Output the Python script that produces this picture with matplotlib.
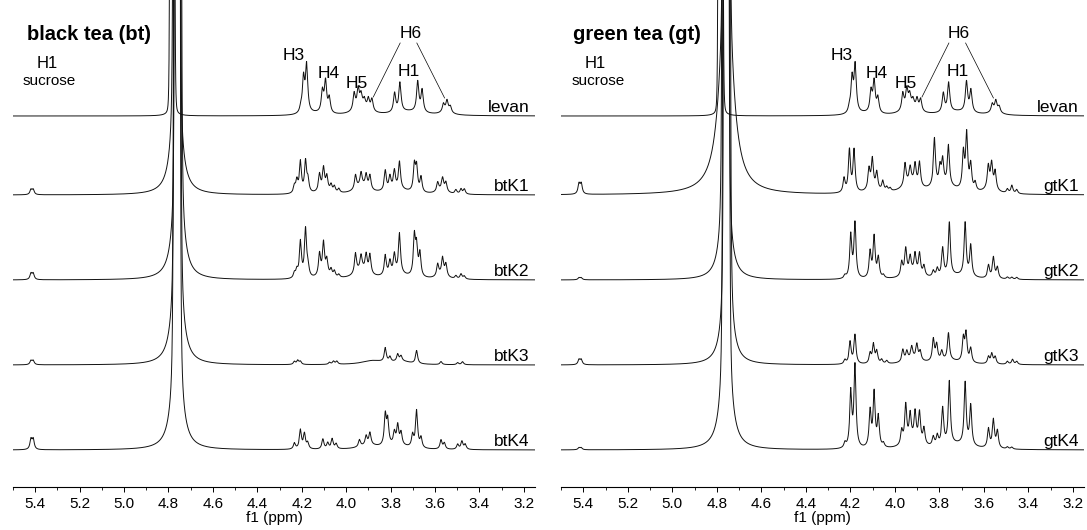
import numpy as np
import matplotlib.pyplot as plt
from matplotlib.ticker import MultipleLocator

plt.rcParams['font.family'] = ['Liberation Sans', 'DejaVu Sans']

# chemical shift window (ppm) and vertical layout (axis height = 487 units)
ppm_lim = (5.5, 3.15)
offsets = [371, 292, 207, 122, 37]

# peak tables: (ppm, height)
levan_peaks = [(4.204, 5), (4.192, 34), (4.178, 47), (4.107, 21), (4.093, 31), (4.076, 15),
               (3.964, 17), (3.946, 19), (3.933, 12), (3.918, 8), (3.900, 11), (3.884, 12),
               (3.782, 19), (3.758, 29), (3.678, 30), (3.658, 22),
               (3.562, 8), (3.546, 11), (3.531, 6)]
levan_broad = [(3.93, 7, 0.04), (3.72, 4, 0.08), (3.55, 3, 0.03), (4.14, 2, 0.05)]

btk1_peaks = [(5.419, 5), (5.409, 5),
              (4.233, 7), (4.222, 12), (4.206, 31), (4.183, 31), (4.172, 12),
              (4.120, 17), (4.102, 22), (4.087, 14), (4.068, 7), (4.053, 6), (4.033, 4),
              (3.958, 14), (3.933, 13), (3.910, 13), (3.893, 14),
              (3.824, 20), (3.803, 13), (3.783, 18), (3.760, 27),
              (3.693, 26), (3.683, 24), (3.663, 15),
              (3.588, 9), (3.566, 12), (3.551, 9), (3.506, 4), (3.483, 5), (3.468, 5)]
btk1_broad = [(3.93, 8, 0.035), (3.77, 5, 0.06), (3.57, 4, 0.025), (4.10, 3, 0.03)]

btk2_peaks = [(5.419, 6), (5.409, 6),
              (4.233, 5), (4.222, 7), (4.206, 36), (4.183, 48), (4.172, 10),
              (4.120, 22), (4.102, 32), (4.087, 15), (4.068, 7), (4.053, 6), (4.033, 3),
              (3.958, 20), (3.933, 14), (3.910, 17), (3.893, 19),
              (3.824, 20), (3.803, 13), (3.783, 19), (3.760, 40),
              (3.693, 39), (3.683, 28), (3.668, 23),
              (3.588, 12), (3.566, 17), (3.551, 12), (3.506, 3), (3.483, 5), (3.468, 3)]
btk2_broad = [(3.93, 9, 0.035), (3.77, 5, 0.06), (3.57, 4, 0.025), (4.10, 3, 0.03)]

btk3_peaks = [(5.419, 4), (5.409, 4),
              (4.233, 3), (4.218, 4), (4.206, 3), (4.075, 2), (4.057, 3), (4.042, 3),
              (3.824, 14), (3.803, 5), (3.768, 7), (3.753, 5), (3.683, 13),
              (3.573, 3), (3.498, 2), (3.476, 3)]
btk3_broad = [(3.88, 4, 0.06), (3.75, 3, 0.05)]

btk4_peaks = [(5.419, 10), (5.409, 10),
              (4.233, 6), (4.206, 19), (4.188, 15), (4.173, 6),
              (4.105, 10), (4.083, 6), (4.063, 10), (4.045, 5),
              (3.940, 7), (3.910, 9), (3.893, 12), (3.824, 30), (3.813, 24),
              (3.783, 12), (3.768, 19), (3.753, 12), (3.701, 12), (3.683, 37), (3.663, 10),
              (3.573, 9), (3.558, 6), (3.498, 5), (3.479, 8), (3.464, 5)]
btk4_broad = [(3.90, 4, 0.05), (3.77, 4, 0.06)]

gtk1_peaks = [(5.419, 10), (5.409, 10),
              (4.228, 14), (4.204, 42), (4.183, 42),
              (4.116, 20), (4.101, 29), (4.081, 17), (4.054, 10), (4.036, 4), (4.021, 3),
              (3.954, 22), (3.931, 15), (3.909, 20), (3.889, 24),
              (3.822, 48), (3.797, 17), (3.785, 24), (3.759, 40),
              (3.692, 36), (3.677, 55), (3.659, 25), (3.639, 8),
              (3.580, 22), (3.565, 24), (3.549, 18), (3.494, 4), (3.474, 8), (3.452, 4)]
gtk1_broad = [(3.93, 10, 0.04), (3.78, 8, 0.07), (3.57, 5, 0.03), (4.10, 4, 0.03)]

gtk2_peaks = [(5.419, 2), (5.409, 2),
              (4.224, 3), (4.198, 43), (4.179, 55),
              (4.111, 26), (4.093, 41), (4.074, 20), (4.051, 3),
              (3.969, 14), (3.951, 26), (3.931, 16), (3.909, 19), (3.889, 21), (3.869, 10),
              (3.827, 6), (3.809, 8), (3.785, 28), (3.755, 53), (3.684, 53), (3.659, 31),
              (3.579, 13), (3.557, 21), (3.539, 11), (3.494, 2), (3.474, 2), (3.452, 2)]
gtk2_broad = [(3.92, 6, 0.04), (3.72, 4, 0.07)]

gtk3_peaks = [(5.419, 5), (5.409, 5),
              (4.224, 4), (4.201, 22), (4.179, 29),
              (4.111, 10), (4.096, 19), (4.081, 12), (4.059, 4), (4.036, 3),
              (3.964, 12), (3.946, 9), (3.924, 12), (3.901, 15), (3.886, 9),
              (3.827, 22), (3.812, 16), (3.789, 9), (3.759, 27),
              (3.692, 23), (3.680, 28), (3.659, 14),
              (3.579, 7), (3.564, 10), (3.549, 7), (3.494, 3), (3.471, 5), (3.452, 3)]
gtk3_broad = [(3.92, 5, 0.04), (3.76, 4, 0.07)]

gtk4_peaks = [(5.419, 2), (5.409, 2),
              (4.224, 5), (4.198, 55), (4.179, 82),
              (4.111, 36), (4.093, 54), (4.074, 30), (4.051, 4),
              (3.969, 14), (3.951, 38), (3.931, 26), (3.909, 28), (3.889, 30), (3.869, 16),
              (3.827, 9), (3.809, 10), (3.785, 37), (3.755, 63), (3.684, 62), (3.659, 40),
              (3.579, 19), (3.557, 28), (3.539, 17), (3.494, 2), (3.474, 2)]
gtk4_broad = [(3.92, 8, 0.04), (3.72, 5, 0.07)]

# residual water signal (off scale): (ppm, core half width, tail height, tail width)
levan_water = (4.783, 0.008, 20, 0.012)
bt_water = [(4.764, 0.011, 200, 0.0175), (4.757, 0.011, 200, 0.0175),
            (4.760, 0.011, 200, 0.0175), (4.762, 0.011, 200, 0.0175)]
gt_water = [(4.757, 0.011, 250, 0.03), (4.761, 0.011, 200, 0.016),
            (4.754, 0.011, 200, 0.016), (4.758, 0.011, 200, 0.018)]

bt_names = ['levan', 'btK1', 'btK2', 'btK3', 'btK4']
gt_names = ['levan', 'gtK1', 'gtK2', 'gtK3', 'gtK4']


def lorentz(x, x0, h, w):
    return h * w**2 / ((x - x0)**2 + w**2)


def trace(x, peaks, broad, water, width=0.005):
    y = np.zeros_like(x)
    for p, h in peaks:
        y += lorentz(x, p, h, width)
    for p, h, w in broad:
        y += lorentz(x, p, h, w)
    wp, core, th, tw = water
    y += 6000 / (1 + ((x - wp) / core)**8)
    y += lorentz(x, wp, th, tw)
    return y


x = np.linspace(3.15, 5.5, 16000)

fig = plt.figure(figsize=(10.87, 5.30), dpi=100)
axL = fig.add_axes([13/1087, 43/530, 522/1087, 487/530])
axR = fig.add_axes([561/1087, 43/530, 523/1087, 487/530])

panels = [
    (axL, 'black tea (bt)', bt_names,
     [(levan_peaks, levan_broad, levan_water, 0.006),
      (btk1_peaks, btk1_broad, bt_water[0], 0.0055),
      (btk2_peaks, btk2_broad, bt_water[1], 0.0055),
      (btk3_peaks, btk3_broad, bt_water[2], 0.0055),
      (btk4_peaks, btk4_broad, bt_water[3], 0.0055)]),
    (axR, 'green tea (gt)', gt_names,
     [(levan_peaks, levan_broad, levan_water, 0.006),
      (gtk1_peaks, gtk1_broad, gt_water[0], 0.0055),
      (gtk2_peaks, gtk2_broad, gt_water[1], 0.0055),
      (gtk3_peaks, gtk3_broad, gt_water[2], 0.0055),
      (gtk4_peaks, gtk4_broad, gt_water[3], 0.0055)]),
]

for ax, title, names, specs in panels:
    for off, name, (pk, br, wat, wd) in zip(offsets, names, specs):
        ax.plot(x, off + trace(x, pk, br, wat, wd), color='#111111', lw=0.7)
        ax.text(3.175, off + 4, name, fontsize=12.5, ha='right', va='baseline')

    ax.text(5.16, 453, title, fontsize=14.5, fontweight='bold', ha='center', va='center')
    ax.text(5.345, 423, 'H1', fontsize=12, ha='center', va='center')
    ax.text(5.335, 406, 'sucrose', fontsize=11, ha='center', va='center')
    ax.text(4.237, 431, 'H3', fontsize=12.5, ha='center', va='center')
    ax.text(4.081, 413, 'H4', fontsize=12.5, ha='center', va='center')
    ax.text(3.953, 404, 'H5', fontsize=12.5, ha='center', va='center')
    ax.text(3.711, 453, 'H6', fontsize=12.5, ha='center', va='center')
    ax.text(3.717, 415, 'H1', fontsize=12.5, ha='center', va='center')
    ax.plot([3.757, 3.878], [444, 390], color='black', lw=0.5)
    ax.plot([3.682, 3.557], [444, 389], color='black', lw=0.5)

    ax.set_xlim(*ppm_lim)
    ax.set_ylim(0, 487)
    for s in ['left', 'right', 'top']:
        ax.spines[s].set_visible(False)
    ax.spines['bottom'].set_linewidth(0.8)
    ax.set_yticks([])
    ax.xaxis.set_major_locator(MultipleLocator(0.2))
    ax.xaxis.set_minor_locator(MultipleLocator(0.1))
    ax.xaxis.set_major_formatter(lambda v, pos: f'{v:.1f}')
    ax.tick_params(axis='x', which='major', length=3.5, width=0.7, labelsize=11, pad=4)
    ax.tick_params(axis='x', which='minor', length=2, width=0.6)
    ax.set_xlabel('f1 (ppm)', fontsize=11, labelpad=0)
    ax.patch.set_visible(False)

fig.savefig('out.png', dpi=100)
